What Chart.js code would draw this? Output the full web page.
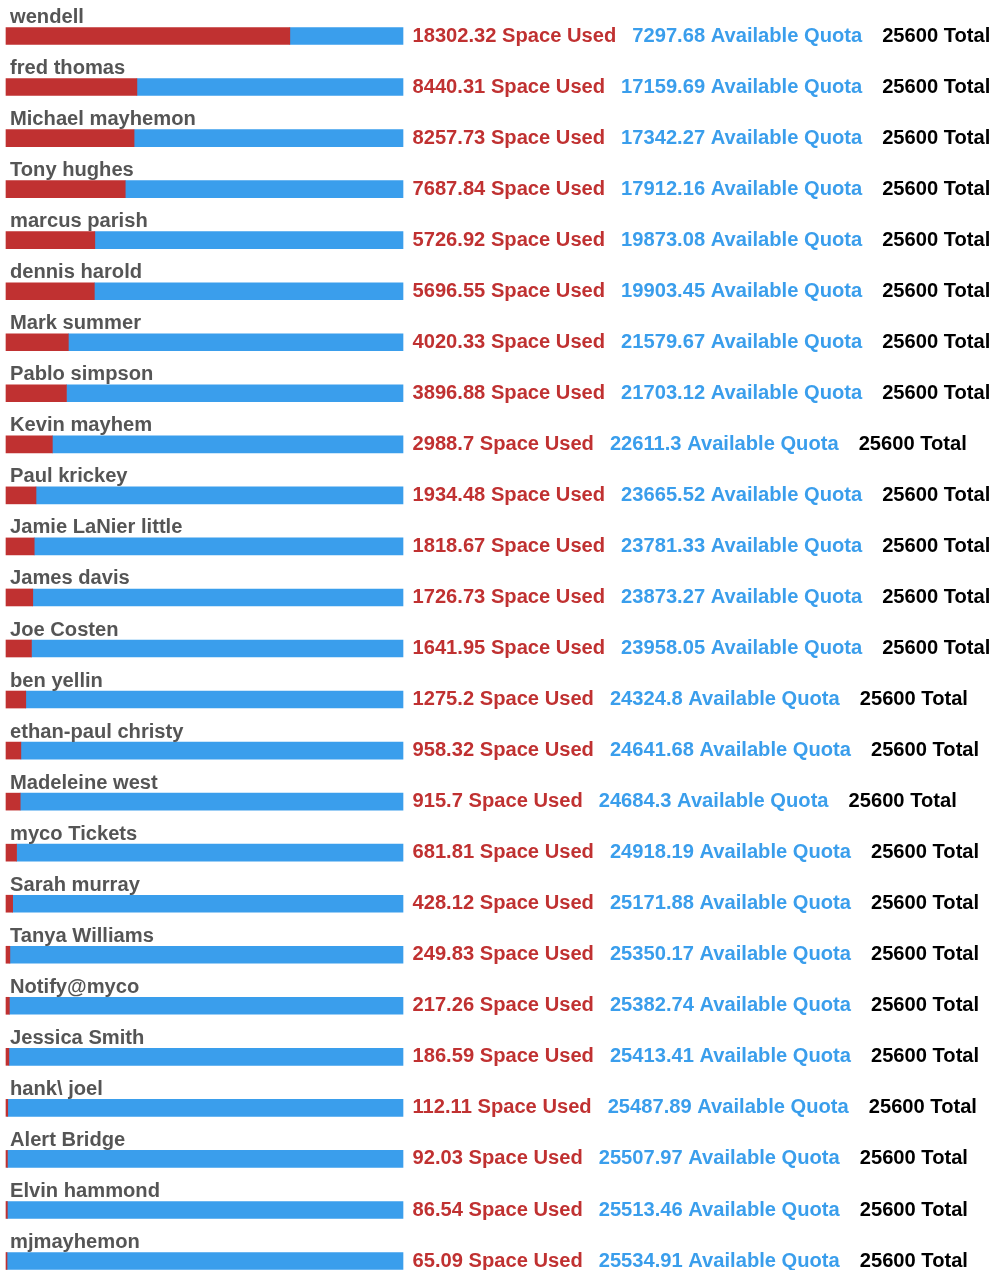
<!DOCTYPE html>
<html>
<head>
<meta charset="utf-8">
<script src="https://cdn.jsdelivr.net/npm/chart.js@4/dist/chart.umd.min.js"></script>
<style>
  html, body { margin: 0; padding: 0; background: #ffffff; overflow: hidden; }
  #wrap { position: relative; width: 993px; height: 1270px; }
</style>
</head>
<body>
<div id="wrap"><canvas id="c" width="993" height="1270"></canvas></div>
<script>
const names = ["wendell", "fred thomas", "Michael mayhemon", "Tony hughes", "marcus parish", "dennis harold", "Mark summer", "Pablo simpson", "Kevin mayhem", "Paul krickey", "Jamie LaNier little", "James davis", "Joe Costen", "ben yellin", "ethan-paul christy", "Madeleine west", "myco Tickets", "Sarah murray", "Tanya Williams", "Notify@myco", "Jessica Smith", "hank\\ joel", "Alert Bridge", "Elvin hammond", "mjmayhemon"];
const spaceUsed = [18302.32, 8440.31, 8257.73, 7687.84, 5726.92, 5696.55, 4020.33, 3896.88, 2988.7, 1934.48, 1818.67, 1726.73, 1641.95, 1275.2, 958.32, 915.7, 681.81, 428.12, 249.83, 217.26, 186.59, 112.11, 92.03, 86.54, 65.09];
const availableQuota = [7297.68, 17159.69, 17342.27, 17912.16, 19873.08, 19903.45, 21579.67, 21703.12, 22611.3, 23665.52, 23781.33, 23873.27, 23958.05, 24324.8, 24641.68, 24684.3, 24918.19, 25171.88, 25350.17, 25382.74, 25413.41, 25487.89, 25507.97, 25513.46, 25534.91];
const totalQuota = [25600, 25600, 25600, 25600, 25600, 25600, 25600, 25600, 25600, 25600, 25600, 25600, 25600, 25600, 25600, 25600, 25600, 25600, 25600, 25600, 25600, 25600, 25600, 25600, 25600];

const RED = '#c03131';
const BLUE = '#3a9eec';
const FONT = 'bold 20.15px "Liberation Sans", Arial, sans-serif';

const labelPlugin = {
  id: 'rowLabels',
  afterDatasetsDraw(chart) {
    const ctx = chart.ctx;
    const meta = chart.getDatasetMeta(1);
    ctx.save();
    meta.data.forEach((bar, i) => {
      const y = bar.y;
      ctx.font = FONT;
      ctx.textAlign = 'left';
      ctx.textBaseline = 'alphabetic';
      ctx.fillStyle = '#555555';
      ctx.fillText(names[i], 10, y - 13);
      ctx.textBaseline = 'middle';
      let x = 412.5;
      const t1 = spaceUsed[i] + ' Space Used';
      ctx.fillStyle = RED;
      ctx.fillText(t1, x, y);
      x += ctx.measureText(t1).width + 16;
      const t2 = availableQuota[i] + ' Available Quota';
      ctx.fillStyle = BLUE;
      ctx.fillText(t2, x, y);
      x += ctx.measureText(t2).width + 20;
      const t3 = totalQuota[i] + ' Total';
      ctx.fillStyle = '#000000';
      ctx.fillText(t3, x, y);
    });
    ctx.restore();
  }
};

new Chart(document.getElementById('c'), {
  type: 'bar',
  data: {
    labels: names,
    datasets: [
      { label: 'Space Used', data: spaceUsed, backgroundColor: RED, borderWidth: 0, barThickness: 17, clip: false },
      { label: 'Available Quota', data: availableQuota, backgroundColor: BLUE, borderWidth: 0, barThickness: 17, clip: false }
    ]
  },
  options: {
    indexAxis: 'y',
    responsive: false,
    animation: false,
    layout: { padding: { left: 6, right: 590, top: 36, bottom: 9 } },
    plugins: { legend: { display: false }, tooltip: { enabled: false } },
    scales: {
      x: { stacked: true, min: 0, max: 25600, display: false },
      y: { stacked: true, display: false, offset: false }
    }
  },
  plugins: [labelPlugin]
});
</script>
</body>
</html>
